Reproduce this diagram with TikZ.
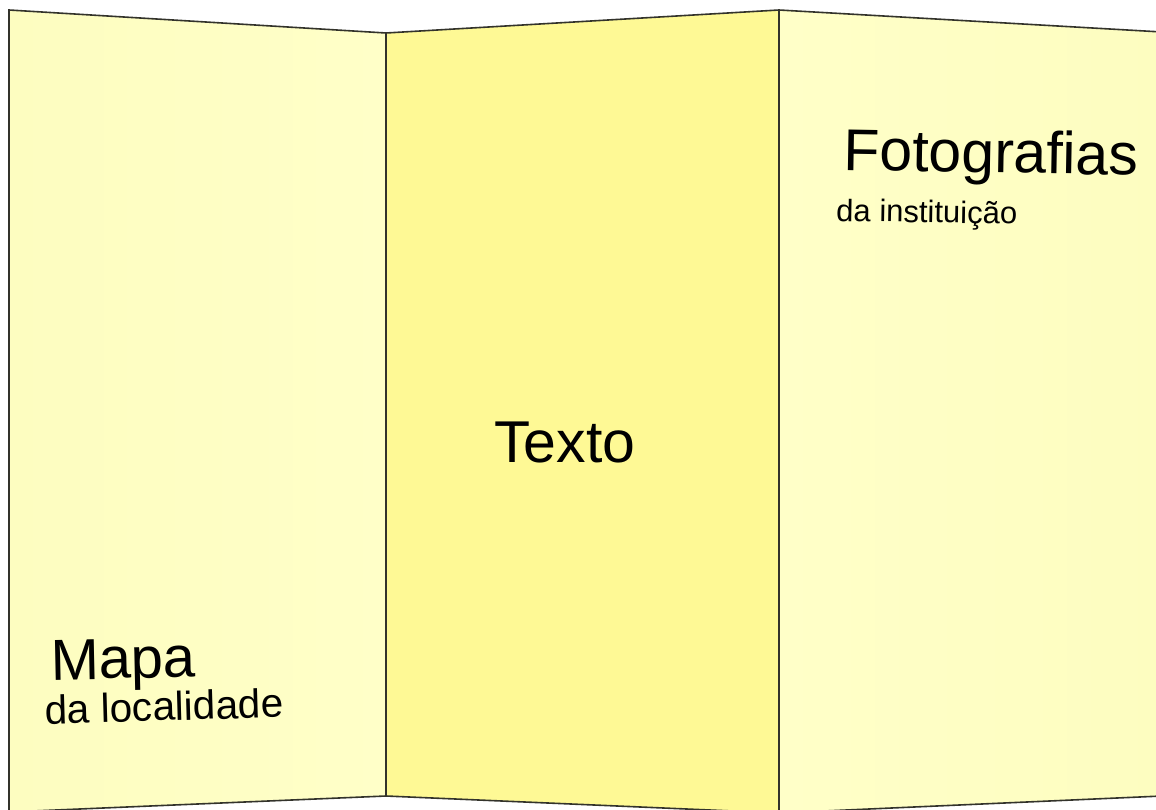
\documentclass[tikz,border=0pt]{standalone}
\usepackage{fontspec}
\setmainfont{Liberation Sans}
\definecolor{sidepanel}{HTML}{FDFDC0}
\definecolor{sidepanelB}{HTML}{FFFFC8}
\definecolor{midpanel}{HTML}{FEF995}
\definecolor{edge}{HTML}{33332B}
\begin{document}
\begin{tikzpicture}[x=1pt,y=-1pt,
  panel/.style={draw=edge,line width=1.6pt,line join=miter},
  lbl/.style={inner sep=0pt,anchor=base west,text=black}]
\useasboundingbox (0,0) rectangle (1156,810);
\begin{scope}
\clip (0,0) rectangle (1156,810);
% coordinates of the folded sheet
\coordinate (lt) at (9,10);
\coordinate (f1t) at (386,33);
\coordinate (f2t) at (779,10);
\coordinate (rt) at (1162,32);
\coordinate (lb) at (9,812);
\coordinate (f1b) at (386,796);
\coordinate (f2b) at (779,813);
\coordinate (rb) at (1162,796);
% panels
\path[left color=sidepanel,right color=sidepanelB] (lt) -- (f1t) -- (f1b) -- (lb) -- cycle;
\path[fill=midpanel] (f1t) -- (f2t) -- (f2b) -- (f1b) -- cycle;
\path[left color=sidepanelB,right color=sidepanel] (f2t) -- (rt) -- (rb) -- (f2b) -- cycle;
\draw[panel] (lb) -- (lt) -- (f1t) -- (f2t) -- (rt);
\draw[panel] (lb) -- (f1b) -- (f2b) -- (rb);
\draw[panel] (f1t) -- (f1b);
\draw[panel] (f2t) -- (f2b);
\end{scope}
% labels
\node[lbl,font=\fontsize{58}{58}\selectfont,rotate=1.2] (mapa) at (51,680) {Mapa};
\node[lbl,font=\fontsize{40.5}{41}\selectfont,rotate=1.6] (loc) at (45,724) {da localidade};
\node[lbl,font=\fontsize{59}{59}\selectfont] (texto) at (494,462) {Texto};
\node[lbl,font=\fontsize{59}{59}\selectfont,rotate=-1] (foto) at (843,170) {Fotografias};
\node[lbl,font=\fontsize{31}{31}\selectfont,rotate=-1] (inst) at (836,221) {da instituição};
\end{tikzpicture}
\end{document}
